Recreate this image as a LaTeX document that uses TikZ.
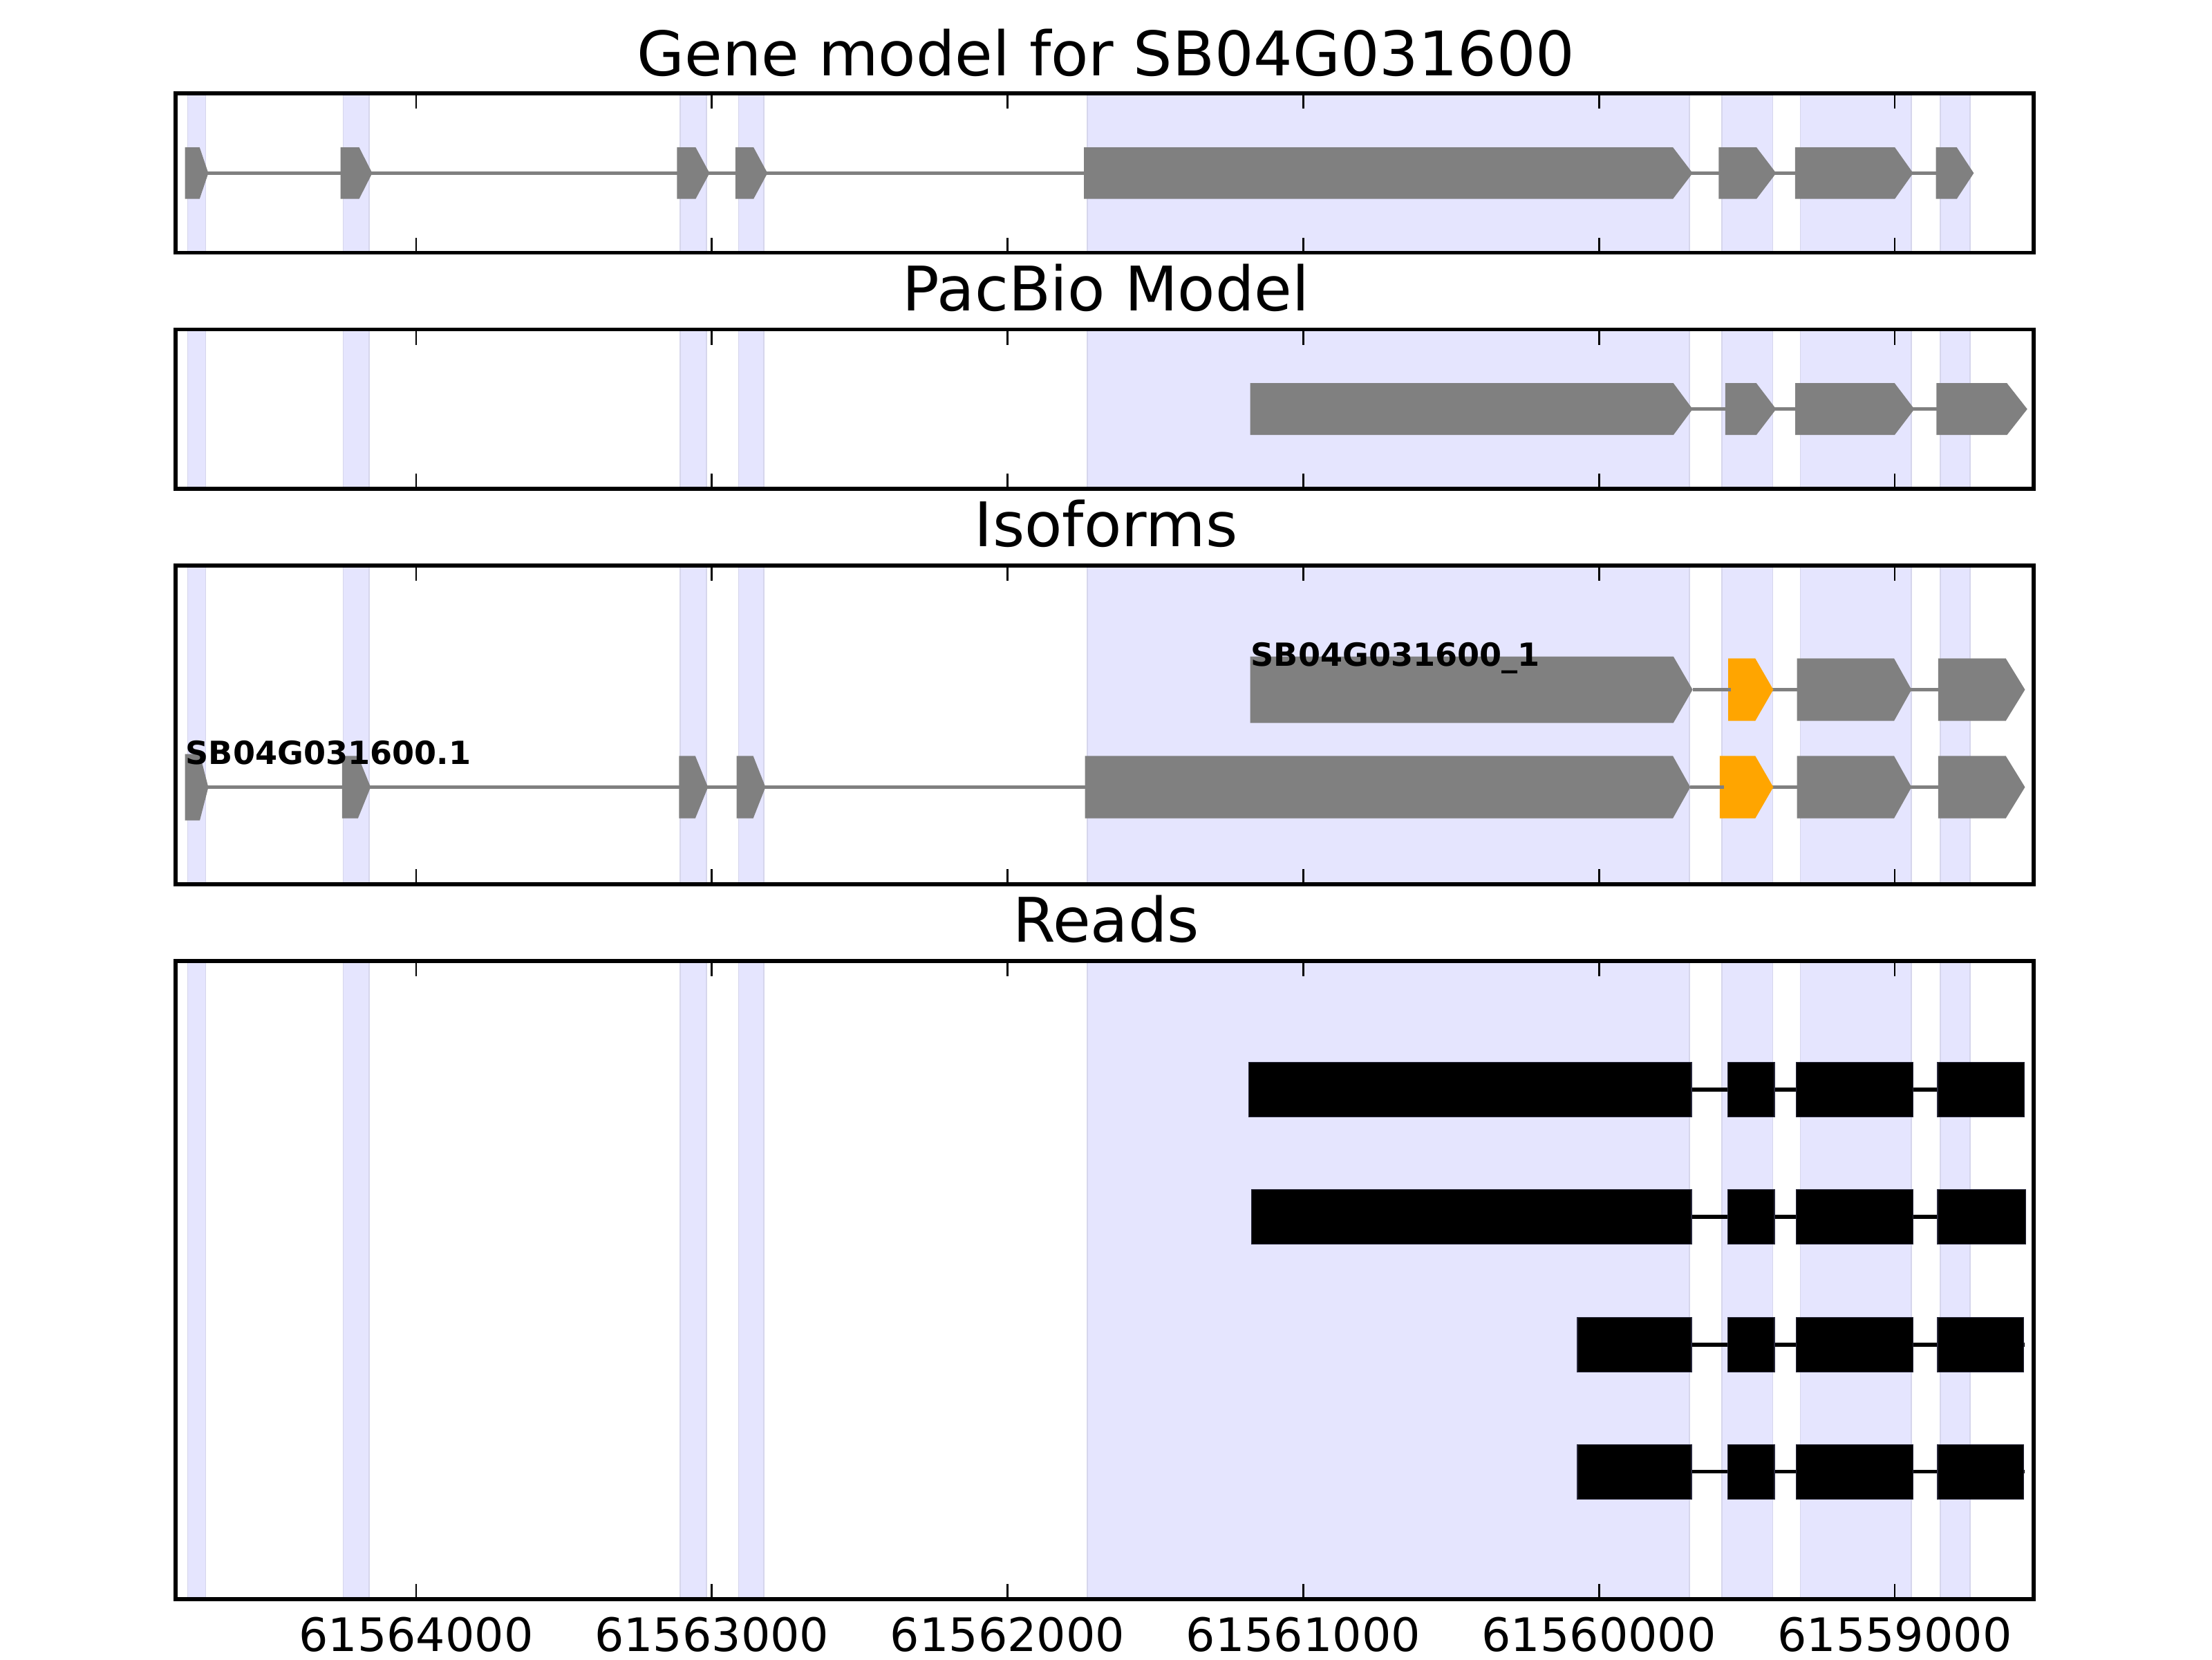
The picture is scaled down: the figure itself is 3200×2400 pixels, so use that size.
\documentclass[tikz,border=0pt]{standalone}
\usepackage{fontspec}
\setmainfont{DejaVu Sans}
\definecolor{spanfill}{RGB}{229,229,254}
\definecolor{spanedge}{RGB}{214,214,236}
\definecolor{exongray}{RGB}{128,128,128}
\definecolor{isoorange}{RGB}{255,165,0}
% left, shoulder, tip, y-centre, half-height, colour
\newcommand\GeneExon[6]{\fill[#6] (#1,#4-#5) -- (#2,#4-#5) -- (#3,#4) -- (#2,#4+#5) -- (#1,#4+#5) -- cycle;}
% left, right, y-centre
\newcommand\ReadBox[3]{\filldraw[fill=black,draw={rgb,255:red,40;green,40;blue,60},line width=0.2pt] (#1,#3-39.5) rectangle (#2,#3+39.5);}
\tikzset{
  intron/.style={line width=1pt},
  spine/.style={line width=1pt,black},
  tickmark/.style={line width=0.5pt,black},
  paneltitle/.style={anchor=base,inner sep=0pt,font=\fontsize{16}{19}\selectfont},
  ticklabel/.style={anchor=base,inner sep=0pt,font=\fontsize{12}{14}\selectfont},
  isolabel/.style={anchor=base west,inner sep=0pt,font=\fontsize{8.3}{10}\selectfont\bfseries},
}
\begin{document}
\begin{tikzpicture}[x=0.18pt,y=-0.18pt]
\useasboundingbox (0,0) rectangle (3200,2400);
\fill[white] (0,0) rectangle (3200,2400);

% shaded exon spans in every panel
\foreach \t/\b in {135/365.7, 476.4/707.1, 817.8/1279.2, 1389.9/2312.7}{
  \foreach \l/\r in {271.6/297.4, 496.6/533.9, 984/1021.9, 1068.4/1105.1,
                     1572.7/2443.8, 2491/2564.6, 2604.3/2764.8, 2807.2/2849.7}{
    \filldraw[fill=spanfill,draw=spanedge,line width=0.3pt] (\l,\t) rectangle (\r,\b);
  }
}

% ---- Panel 1: gene model
\draw[intron,exongray] (280,250.4) -- (2820,250.4);
\GeneExon{267.6}{288.8}{301.4}{250.4}{37.2}{exongray}
\GeneExon{492.6}{519.6}{538.5}{250.4}{37.2}{exongray}
\GeneExon{979.4}{1006.4}{1026.5}{250.4}{37.2}{exongray}
\GeneExon{1063.8}{1090.2}{1110.3}{250.4}{37.2}{exongray}
\GeneExon{1568}{2420.2}{2448.6}{250.4}{37.2}{exongray}
\GeneExon{2486.3}{2541.1}{2569.4}{250.4}{37.2}{exongray}
\GeneExon{2596.7}{2741.2}{2767.6}{250.4}{37.2}{exongray}
\GeneExon{2800.6}{2830.8}{2855.3}{250.4}{37.2}{exongray}

% ---- Panel 2: PacBio model
\draw[intron,exongray] (1820,591.7) -- (2810,591.7);
\GeneExon{1808.6}{2420.8}{2448.6}{591.7}{37.5}{exongray}
\GeneExon{2495.9}{2540.8}{2569.4}{591.7}{37.5}{exongray}
\GeneExon{2597.1}{2740.8}{2769.4}{591.7}{37.5}{exongray}
\GeneExon{2801.2}{2903.3}{2932.7}{591.7}{37.5}{exongray}

% ---- Panel 3: isoforms, upper row
\draw[intron,exongray] (2540,997.5) -- (2810,997.5);
\GeneExon{1808.6}{2420.8}{2448.6}{997.5}{48}{exongray}
\GeneExon{2500}{2539.2}{2565.3}{997.5}{45.2}{isoorange}
\GeneExon{2599.6}{2740}{2765.3}{997.5}{45.2}{exongray}
\GeneExon{2803.7}{2901.6}{2929.4}{997.5}{45.2}{exongray}
\draw[intron,exongray] (2448.6,997.5) -- (2504,997.5);
\node[isolabel] (isoA) at (1808.6,963.3) {SB04G031600\_1};

% ---- Panel 3: isoforms, lower row
\draw[intron,exongray] (280,1138.5) -- (1580,1138.5);
\draw[intron,exongray] (2540,1138.5) -- (2810,1138.5);
\GeneExon{267.6}{289}{301.4}{1138.7}{48}{exongray}
\GeneExon{494.9}{517.8}{536.2}{1138.5}{45.2}{exongray}
\GeneExon{982.3}{1005.8}{1024.2}{1138.5}{45.2}{exongray}
\GeneExon{1065.5}{1089.6}{1107.4}{1138.5}{45.2}{exongray}
\GeneExon{1569.5}{2420}{2445.3}{1138.5}{45.2}{exongray}
\GeneExon{2487.8}{2539.2}{2565.3}{1138.5}{45.2}{isoorange}
\GeneExon{2599.6}{2740}{2765.3}{1138.5}{45.2}{exongray}
\GeneExon{2803.7}{2901.6}{2929.4}{1138.5}{45.2}{exongray}
\draw[intron,exongray] (2445.3,1138.5) -- (2493.5,1138.5);
\node[isolabel] (isoB) at (267.6,1105) {SB04G031600.1};

% ---- Panel 4: reads
\foreach \y/\s/\e in {1576/1806.1/2928.6, 1760/1810.2/2930, 1944.7/2282/2929, 2128.6/2282/2929}{
  \draw[intron,black] (\s,\y) -- (\e,\y);
}
\foreach \y/\s/\e in {1576/1806.1/2928.6, 1760/1810.2/2930, 1944.7/2282/2927, 2128.6/2282/2927}{
  \ReadBox{\s}{2447}{\y}
  \ReadBox{2499.2}{2566.9}{\y}
  \ReadBox{2598.8}{2767}{\y}
  \ReadBox{2802.9}{\e}{\y}
}

% ---- frames and ticks
\foreach \t/\b in {135/365.7, 476.4/707.1, 817.8/1279.2, 1389.9/2312.7}{
  \foreach \x in {602,1029.8,1457.6,1885.4,2313.2,2741}{
    \draw[tickmark] (\x,\t) -- ++(0,22.2);
    \draw[tickmark] (\x,\b) -- ++(0,-22.2);
  }
  \draw[spine] (254,\t) rectangle (2942,\b);
}

% ---- titles
\node[paneltitle] (title1) at (1600,109) {Gene model for SB04G031600};
\node[paneltitle] (title2) at (1600,449.3) {PacBio Model};
\node[paneltitle] (title3) at (1600,790) {Isoforms};
\node[paneltitle] (title4) at (1600,1362) {Reads};

% ---- tick labels
\foreach \x/\lab [count=\i] in {602/61564000,1029.8/61563000,1457.6/61562000,1885.4/61561000,2313.2/61560000,2741/61559000}{
  \node[ticklabel] (tick\i) at (\x,2388.3) {\lab};
}
\end{tikzpicture}
\end{document}
